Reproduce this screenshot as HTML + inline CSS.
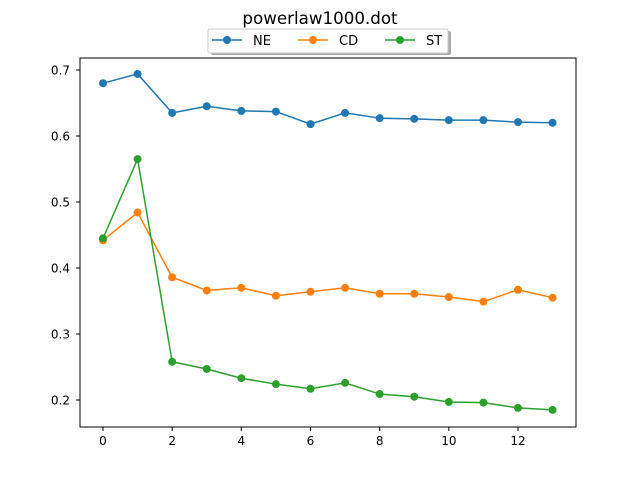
<!DOCTYPE html>
<html><head><meta charset="utf-8"><style>body{margin:0;background:#fff}svg{display:block;font-family:"DejaVu Sans","Liberation Sans",sans-serif}</style></head>
<body>
<svg id="chart" width="640" height="480">
<rect width="640" height="480" fill="#fff"/>
<text x="320" y="24" text-anchor="middle" font-size="16.7">powerlaw1000.dot</text>
<g id="axes"></g>
<g id="plot"></g>
<rect x="80" y="58" width="496" height="369" fill="none" stroke="#000" stroke-width="1"/>
<g>
<rect x="211" y="31" width="240" height="24" fill="#555" opacity="0.5" rx="2"/>
<rect x="208" y="29" width="240" height="24" fill="#fff" stroke="#ccc" rx="2"/>
<g id="legend-items"></g>
</g>
</svg>
<script>
const xCats=[0,1,2,3,4,5,6,7,8,9,10,11,12,13];
const neVals=[0.680,0.694,0.635,0.645,0.638,0.637,0.618,0.635,0.627,0.626,0.624,0.624,0.621,0.620];
const cdVals=[0.442,0.484,0.386,0.366,0.370,0.358,0.364,0.370,0.361,0.361,0.356,0.349,0.367,0.355];
const stVals=[0.445,0.565,0.258,0.247,0.233,0.224,0.217,0.226,0.209,0.205,0.197,0.196,0.188,0.185];
const xTicks=[0,2,4,6,8,10,12];
const yTicks=[0.2,0.3,0.4,0.5,0.6,0.7];
const seriesNames=["NE","CD","ST"];
const NS="http://www.w3.org/2000/svg";
function X(v){return 103+v*(518-103)/12;}
function Y(v){return 400-(v-0.2)*660;}
function mk(t,a,p){const e=document.createElementNS(NS,t);for(const k in a)e.setAttribute(k,a[k]);p.appendChild(e);return e;}
const axes=document.getElementById('axes'),plot=document.getElementById('plot');
xTicks.forEach(t=>{const g=mk('g',{},axes);


mk('line',{x1:X(t),x2:X(t),y1:427,y2:431,stroke:'#000'},g);
const tx=mk('text',{x:X(t),y:445,'text-anchor':'middle','font-size':'12'},g);tx.textContent=t;});
yTicks.forEach(t=>{const g=mk('g',{},axes);


mk('line',{x1:76,x2:80,y1:Y(t),y2:Y(t),stroke:'#000'},g);
const tx=mk('text',{x:70,y:Y(t)+4.5,'text-anchor':'end','font-size':'12'},g);tx.textContent=t.toFixed(1);});
const cols=["#1f77b4","#ff7f0e","#2ca02c"];
[neVals,cdVals,stVals].forEach((vals,i)=>{const g=mk('g',{},plot);


mk('polyline',{points:vals.map((v,j)=>X(xCats[j])+','+Y(v)).join(' '),fill:'none',stroke:cols[i],'stroke-width':1.5},g);
vals.forEach((v,j)=>{const c=mk('circle',{cx:X(xCats[j]),cy:Y(v),r:4,fill:cols[i]},g);

});});
const li=document.getElementById('legend-items');
[212,298,385].forEach((x,i)=>{const g=mk('g',{},li);


mk('line',{x1:x,x2:x+30,y1:40,y2:40,stroke:cols[i],'stroke-width':1.5},g);
mk('circle',{cx:x+15,cy:40,r:4,fill:cols[i]},g);
const t=mk('text',{x:x+41,y:45,'font-size':'13'},g);t.textContent=seriesNames[i];});
</script>
</body></html>
